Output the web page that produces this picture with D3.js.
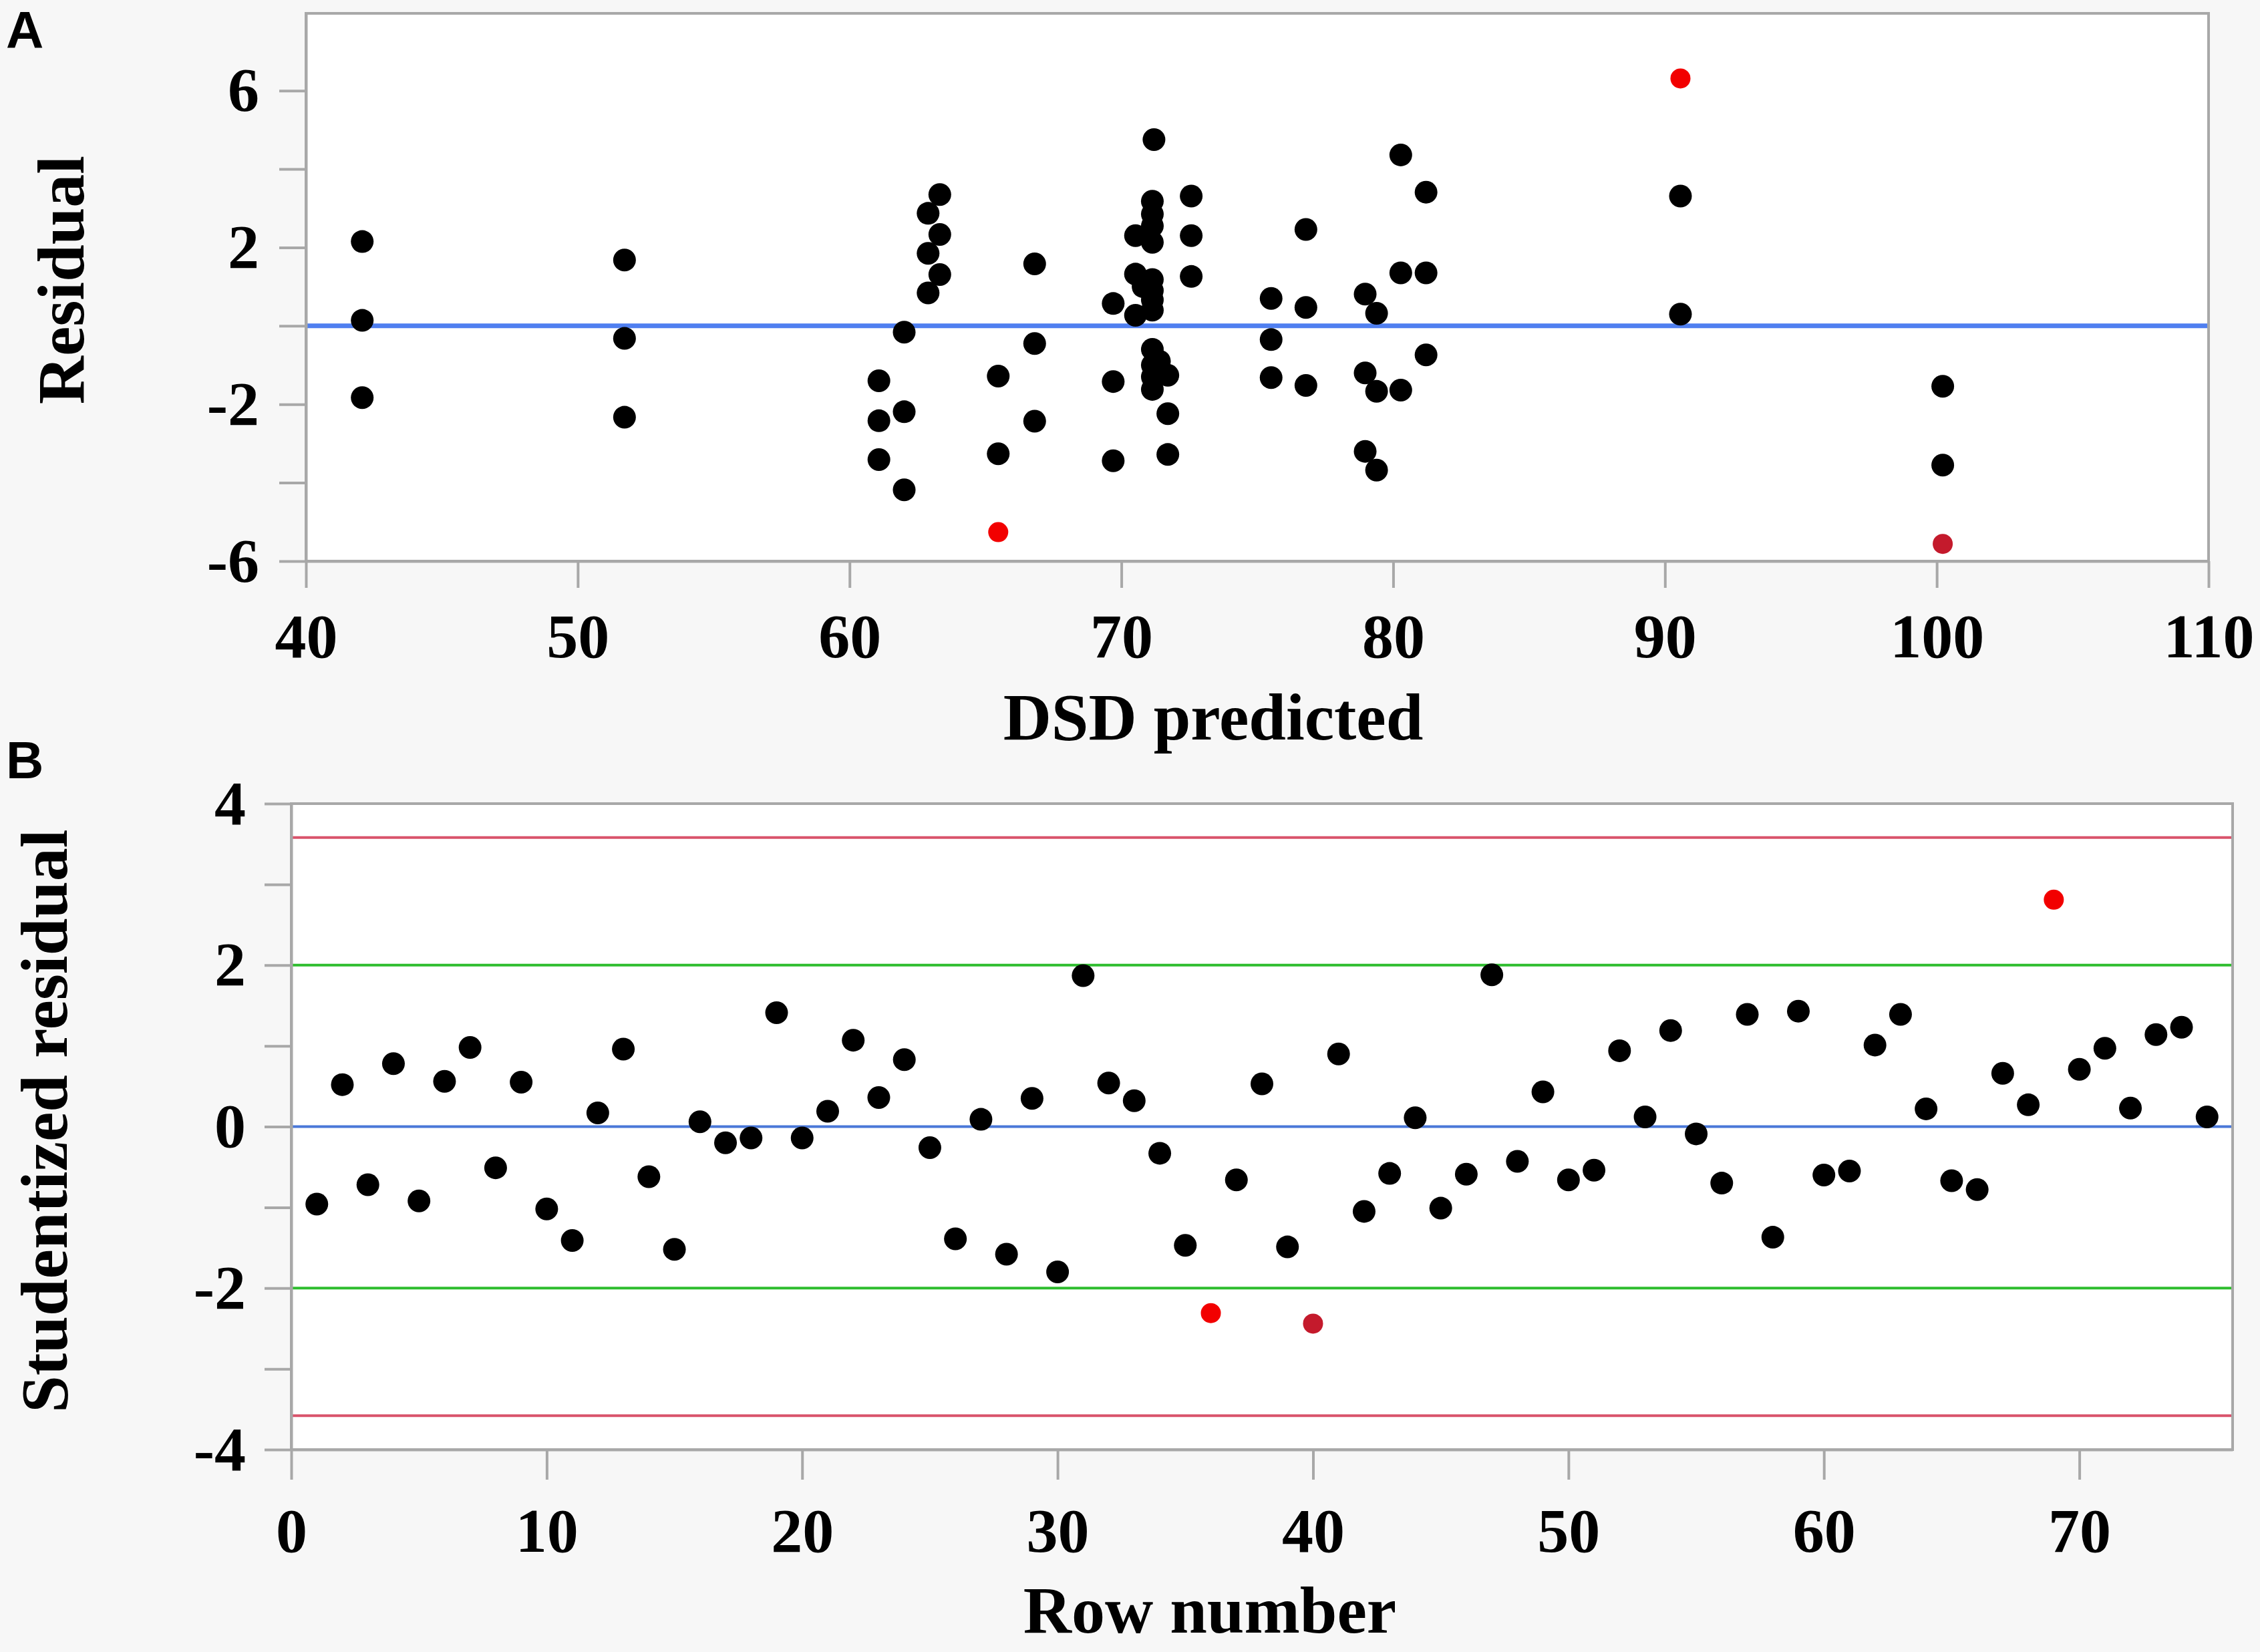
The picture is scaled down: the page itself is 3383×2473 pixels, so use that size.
<!DOCTYPE html>
<meta charset="utf-8">
<script src="https://cdn.jsdelivr.net/npm/d3@7/dist/d3.min.js"></script>
<style>
body { margin: 0; background: #f7f7f7; }
.axis text { font-family: "Liberation Serif", serif; font-weight: bold; font-size: 94px; fill: #000; }
.axis line, .axis path { stroke: #a8a8a8; stroke-width: 4; }
.title { font-family: "Liberation Serif", serif; font-weight: bold; font-size: 100px; fill: #000; }
.panel { font-family: "Liberation Sans", Arial, sans-serif; font-weight: bold; font-size: 78px; }
</style>
<body>
<script>

// ---------- Panel A: residual vs DSD predicted ----------
var dsdPredicted = [
  42.07, 42.07, 42.07,
  51.72, 51.72, 51.72,
  61.08, 61.08, 61.08,
  62.01, 62.01, 62.01,
  62.89, 62.89, 62.89,
  63.32, 63.32, 63.32,
  65.47, 65.47,
  66.81, 66.81, 66.81,
  69.70, 69.70, 69.70,
  70.52, 70.52, 70.52, 70.80,
  71.20, 71.14, 71.14, 71.14, 71.14, 71.14, 71.14, 71.14, 71.14, 71.14, 71.14, 71.14, 71.14, 71.40,
  71.71, 71.71, 71.71,
  72.57, 72.57, 72.57,
  75.51, 75.51, 75.51,
  76.79, 76.79, 76.79,
  78.97, 78.97, 78.97,
  79.39, 79.39, 79.39,
  80.28, 80.28, 80.28,
  81.21, 81.21, 81.21,
  90.57, 90.57,
  100.22, 100.22
];
var residual = [
  2.15, 0.14, -1.83,
  1.68, -0.32, -2.33,
  -1.40, -2.42, -3.41,
  -0.16, -2.19, -4.18,
  2.87, 1.85, 0.84,
  3.35, 2.33, 1.31,
  -1.28, -3.26,
  1.58, -0.45, -2.43,
  0.57, -1.42, -3.44,
  2.30, 1.32, 0.27, 1.00,
  4.75, 3.18, 2.85, 2.55, 2.13, 1.18, 0.90, 0.66, 0.40, -0.60, -1.00, -1.30, -1.62, -0.90,
  -1.26, -2.24, -3.28,
  3.31, 2.30, 1.26,
  0.70, -0.35, -1.32,
  2.46, 0.47, -1.52,
  0.81, -1.20, -3.20,
  0.32, -1.67, -3.68,
  4.36, 1.35, -1.64,
  3.41, 1.35, -0.74,
  3.31, 0.30,
  -1.54, -3.55
];
// excluded / flagged runs
var redPredicted = [65.47, 90.57];
var redResidual  = [-5.26, 6.31];
var darkPredicted = [100.22];
var darkResidual  = [-5.56];

var xTicksA = [40, 50, 60, 70, 80, 90, 100, 110];
var yTicksA = [-6, -4, -2, 0, 2, 4, 6];
var yLabelsA = [-6, -2, 2, 6];

// ---------- Panel B: studentized residual vs row ----------
var studentized = [
  -0.96, 0.52, -0.72, 0.78, -0.92, 0.56, 0.98, -0.51, 0.55, -1.02,
  -1.41, 0.17, 0.96, -0.62, -1.52, 0.06, -0.20, -0.14, 1.41, -0.14,
  0.19, 1.07, 0.36, 0.83, -0.26, -1.39, 0.09, -1.58, 0.35, -1.80,
  1.87, 0.54, 0.32, -0.33, -1.47, -2.31, -0.66, 0.53, -1.49, -2.44,
  0.90, -1.05, -0.58, 0.11, -1.01, -0.59, 1.88, -0.43, 0.43, -0.66,
  -0.54, 0.94, 0.12, 1.19, -0.09, -0.70, 1.39, -1.37, 1.43, -0.60,
  -0.55, 1.01, 1.39, 0.22, -0.67, -0.78, 0.66, 0.27, 2.81, 0.71,
  0.97, 0.23, 1.14, 1.23, 0.12
];
var redRows = [36, 69];
var darkRows = [40];
var limitWarn = 2;      // green lines
var limitBonf = 3.58;   // red lines

var xTicksB = [0, 10, 20, 30, 40, 50, 60, 70];
var yTicksB = [-4, -3, -2, -1, 0, 1, 2, 3, 4];
var yLabelsB = [-4, -2, 0, 2, 4];

var W = 3383, H = 2473;
var svg = d3.select("body").append("svg")
  .attr("width", W)
  .attr("height", H);

svg.append("rect").attr("width", W).attr("height", H).attr("fill", "#f7f7f7");

var frameA = {left: 458, right: 3306, top: 20, bottom: 840};
var frameB = {left: 436, right: 3342, top: 1203, bottom: 2170};

var xA = d3.scaleLinear().domain([40, 110]).range([frameA.left, frameA.right]);
var yA = d3.scaleLinear().domain([-6, 7.97]).range([frameA.bottom, frameA.top]);
var xB = d3.scaleLinear().domain([0, 76]).range([frameB.left, frameB.right]);
var yB = d3.scaleLinear().domain([-4, 4]).range([frameB.bottom, frameB.top]);

function plotBox(f) {
  svg.append("rect")
    .attr("x", f.left).attr("y", f.top)
    .attr("width", f.right - f.left).attr("height", f.bottom - f.top)
    .attr("fill", "#fff");
}

function hline(x, y, v, color, w) {
  svg.append("line")
    .attr("x1", x.range()[0]).attr("x2", x.range()[1])
    .attr("y1", y(v)).attr("y2", y(v))
    .attr("stroke", color).attr("stroke-width", w);
}

function frame(f) {
  svg.append("rect")
    .attr("x", f.left).attr("y", f.top)
    .attr("width", f.right - f.left).attr("height", f.bottom - f.top)
    .attr("fill", "none").attr("stroke", "#a8a8a8").attr("stroke-width", 4);
}

//////////////////// Panel A ////////////////////
plotBox(frameA);
hline(xA, yA, 0, "#4f7ff0", 7);

svg.append("g").selectAll("circle")
  .data(d3.range(dsdPredicted.length))
  .enter().append("circle")
  .attr("cx", function(i) { return xA(dsdPredicted[i]); })
  .attr("cy", function(i) { return yA(residual[i]); })
  .attr("r", 17)
  .attr("fill", "#000");

svg.append("g").selectAll("circle")
  .data(d3.range(redPredicted.length))
  .enter().append("circle")
  .attr("cx", function(i) { return xA(redPredicted[i]); })
  .attr("cy", function(i) { return yA(redResidual[i]); })
  .attr("r", 15)
  .attr("fill", "#f20000");

svg.append("g").selectAll("circle")
  .data(d3.range(darkPredicted.length))
  .enter().append("circle")
  .attr("cx", function(i) { return xA(darkPredicted[i]); })
  .attr("cy", function(i) { return yA(darkResidual[i]); })
  .attr("r", 15)
  .attr("fill", "#c41a2c");

frame(frameA);

svg.append("g")
  .attr("class", "axis")
  .attr("transform", "translate(0," + frameA.bottom + ")")
  .call(d3.axisBottom(xA).tickValues(xTicksA).tickSize(40).tickSizeOuter(0).tickPadding(37)
    .tickFormat(function(d) { return String(d); }));

svg.append("g")
  .attr("class", "axis")
  .attr("transform", "translate(" + frameA.left + ",0)")
  .call(d3.axisLeft(yA).tickValues(yTicksA).tickSize(40).tickSizeOuter(0).tickPadding(30)
    .tickFormat(function(d) { return yLabelsA.indexOf(d) >= 0 ? String(d) : ""; }));

svg.append("text")
  .attr("class", "title")
  .attr("x", 1816).attr("y", 1107)
  .attr("text-anchor", "middle")
  .text("DSD predicted");

svg.append("text")
  .attr("class", "title")
  .attr("transform", "translate(125,419) rotate(-90)")
  .attr("text-anchor", "middle")
  .text("Residual");

// keep the glyph box inside the page
svg.append("text")
  .attr("class", "panel")
  .attr("x", 9).attr("y", 72)
  .text("A");

//////////////////// Panel B ////////////////////
plotBox(frameB);
hline(xB, yB, limitBonf, "#d9536b", 4);
hline(xB, yB, -limitBonf, "#d9536b", 4);
hline(xB, yB, limitWarn, "#2ebd2e", 4);
hline(xB, yB, -limitWarn, "#2ebd2e", 4);
hline(xB, yB, 0, "#4a78d8", 4);

svg.append("g").selectAll("circle")
  .data(studentized)
  .enter().append("circle")
  .attr("cx", function(d, i) { return xB(i + 1); })
  .attr("cy", function(d) { return yB(d); })
  .attr("r", function(d, i) { return (redRows.indexOf(i + 1) >= 0 || darkRows.indexOf(i + 1) >= 0) ? 15 : 17; })
  .attr("fill", function(d, i) {
    if (redRows.indexOf(i + 1) >= 0) return "#f20000";
    if (darkRows.indexOf(i + 1) >= 0) return "#c41a2c";
    return "#000";
  });

frame(frameB);

svg.append("g")
  .attr("class", "axis")
  .attr("transform", "translate(0," + frameB.bottom + ")")
  .call(d3.axisBottom(xB).tickValues(xTicksB).tickSize(45).tickSizeOuter(0).tickPadding(41)
    .tickFormat(function(d) { return String(d); }));

svg.append("g")
  .attr("class", "axis")
  .attr("transform", "translate(" + frameB.left + ",0)")
  .call(d3.axisLeft(yB).tickValues(yTicksB).tickSize(40).tickSizeOuter(0).tickPadding(28)
    .tickFormat(function(d) { return yLabelsB.indexOf(d) >= 0 ? String(d) : ""; }));

svg.append("text")
  .attr("class", "title")
  .attr("x", 1811).attr("y", 2444)
  .attr("text-anchor", "middle")
  .text("Row number");

svg.append("text")
  .attr("class", "title")
  .attr("transform", "translate(100,1678) rotate(-90)")
  .attr("text-anchor", "middle")
  .text("Studentized residual");

svg.append("text")
  .attr("class", "panel")
  .attr("x", 9).attr("y", 1165)
  .text("B");

</script>
</body>
